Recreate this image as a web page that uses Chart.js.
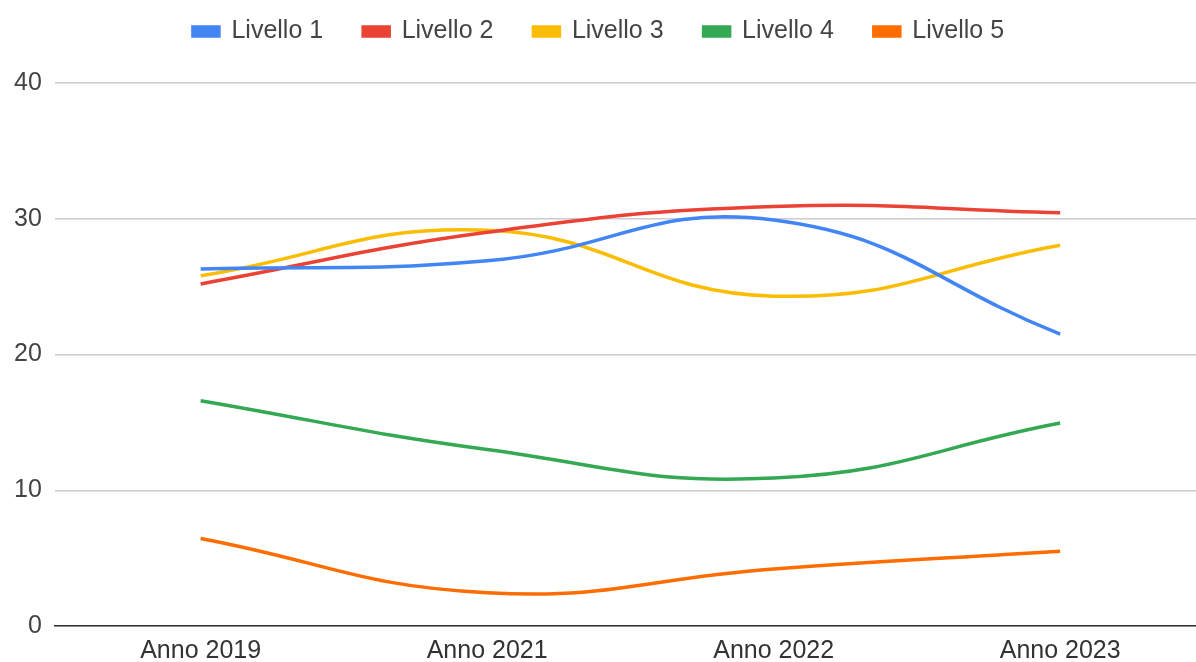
<!DOCTYPE html>
<html>
<head>
<meta charset="utf-8">
<script src="https://cdn.jsdelivr.net/npm/chart.js@4/dist/chart.umd.min.js"></script>
<style>
  html, body { margin: 0; padding: 0; background: #fff; }
  #wrap { width: 1196px; height: 662px; position: relative; }
</style>
</head>
<body>
<div id="wrap"><canvas id="c"></canvas></div>
<script>
const categories = ["Anno 2019", "Anno 2021", "Anno 2022", "Anno 2023"];
const seriesNames = ["Livello 1", "Livello 2", "Livello 3", "Livello 4", "Livello 5"];
const livello1 = [26.3, 26.9, 29.9, 21.5];
const livello2 = [25.2, 29.0, 30.9, 30.45];
const livello3 = [25.8, 29.15, 24.3, 28.05];
const livello4 = [16.6, 13.0, 10.9, 14.95];
const livello5 = [6.45, 2.45, 4.2, 5.5];
const yTicks = [0, 10, 20, 30, 40];

const colors = ["#4285F4", "#EA4335", "#FBBC04", "#34A853", "#FF6D01"];
const allSeries = [livello1, livello2, livello3, livello4, livello5];

const datasets = allSeries.map((vals, i) => ({
  label: seriesNames[i],
  data: vals.map((v, j) => ({ x: j, y: v })),
  borderColor: colors[i],
  backgroundColor: colors[i],
  borderWidth: 3.5,
  pointRadius: 0,
  pointHoverRadius: 0,
  tension: 0.45,
  fill: false
}));

const FONT = "'Liberation Sans', Arial, sans-serif";
const LEGEND_HEIGHT = 104;

const legendHeightPlugin = {
  id: 'legendHeight',
  afterInit(chart) {
    const lg = chart.legend;
    if (!lg) return;
    const origFit = lg.fit.bind(lg);
    lg.fit = function () {
      origFit();
      this.height = LEGEND_HEIGHT;
      this.minSize = { width: this.width, height: LEGEND_HEIGHT };
    };
  }
};

new Chart(document.getElementById('c'), {
  type: 'line',
  data: { datasets },
  plugins: [legendHeightPlugin],
  options: {
    responsive: true,
    maintainAspectRatio: false,
    animation: false,
    layout: { padding: { top: -21, left: 1, right: 0, bottom: -14 } },
    plugins: {
      legend: {
        position: 'top',
        labels: {
          font: { family: FONT, size: 25 },
          color: '#444',
          boxWidth: 26,
          boxHeight: 9,
          padding: 40
        }
      },
      tooltip: { enabled: false }
    },
    scales: {
      x: {
        type: 'linear',
        min: -0.509,
        max: 3.474,
        afterBuildTicks: (axis) => { axis.ticks = categories.map((c, i) => ({ value: i })); },
        ticks: {
          callback: (v) => categories[v],
          font: { family: FONT, size: 25 },
          color: '#333',
          padding: 10,
          maxRotation: 0,
          autoSkip: false
        },
        grid: { display: false, drawTicks: false },
        border: { display: true, color: '#333', width: 1.5 }
      },
      y: {
        min: 0,
        max: 40,
        afterBuildTicks: (axis) => { axis.ticks = yTicks.map(v => ({ value: v })); },
        ticks: {
          font: { family: FONT, size: 25 },
          color: '#444',
          padding: 13
        },
        grid: { color: '#cccccc', lineWidth: 1.5, drawTicks: false },
        border: { display: false }
      }
    }
  }
});
</script>
</body>
</html>
